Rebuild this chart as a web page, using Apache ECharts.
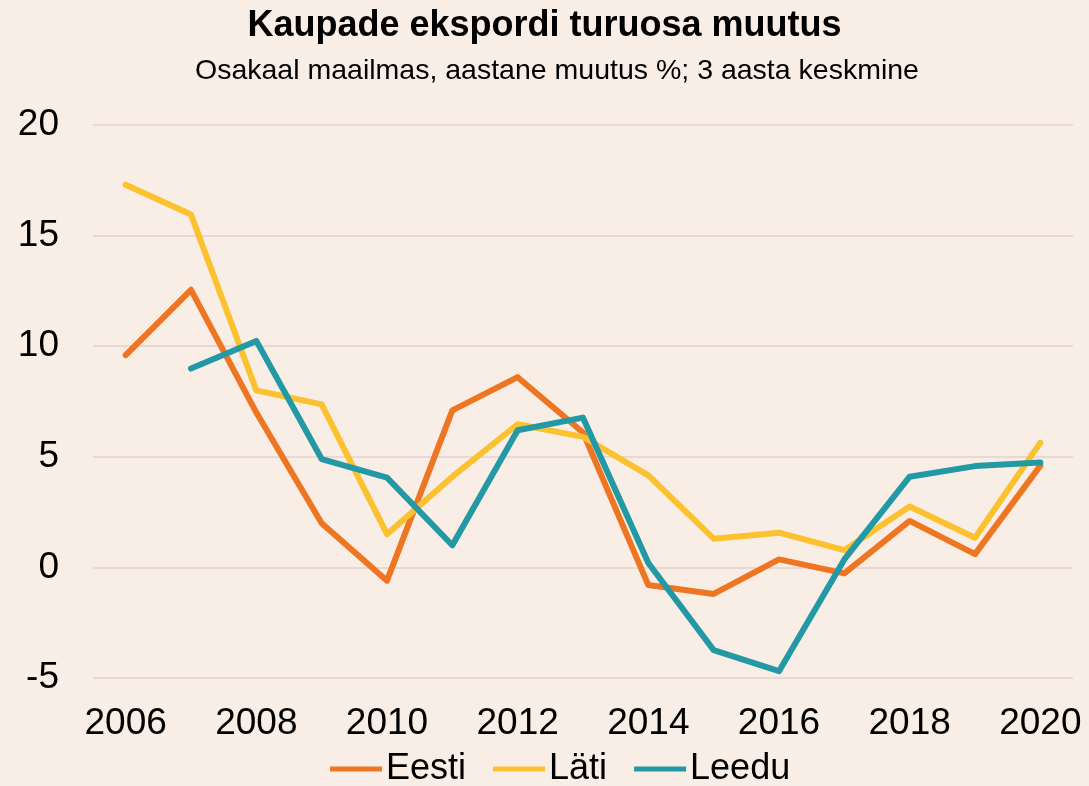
<!DOCTYPE html>
<html><head><meta charset="utf-8">
<script src="https://cdn.jsdelivr.net/npm/echarts@6/dist/echarts.min.js"></script>
<style>html,body{margin:0;padding:0;background:#F9EEE5;}#c{width:1089px;height:786px;}</style>
</head><body><div id="c"></div>
<script>
const years = ['2006','2007','2008','2009','2010','2011','2012','2013','2014','2015','2016','2017','2018','2019','2020'];
const eesti = [9.6, 12.55, 7.0, 2.0, -0.6, 7.1, 8.6, 6.1, -0.8, -1.2, 0.36, -0.27, 2.1, 0.6, 4.6];
const lati  = [17.3, 15.95, 8.0, 7.37, 1.5, 4.1, 6.47, 5.9, 4.16, 1.3, 1.57, 0.78, 2.75, 1.34, 5.64];
const leedu = [null, 8.99, 10.24, 4.9, 4.06, 1.0, 6.2, 6.77, 0.2, -3.74, -4.69, 0.36, 4.1, 4.58, 4.74];
const ff = '"Liberation Sans", Arial, sans-serif';
const chart = echarts.init(document.getElementById('c'));
function s(name, data, color){
  return {name, type:'line', data, showSymbol:false, symbol:'none', connectNulls:false,
    lineStyle:{width:6, color, cap:'round', join:'round'}, itemStyle:{color}};
}
chart.setOption({
  backgroundColor:'#F9EEE5',
  animation:false,
  title:[
    {text:'Kaupade ekspordi turuosa muutus', left:'center', top:3,
     textStyle:{fontFamily:ff, fontSize:36, fontWeight:'bold', color:'#000'}},
    {text:'Osakaal maailmas, aastane muutus %; 3 aasta keskmine', left:190, top:52,
     textStyle:{fontFamily:ff, fontSize:28.5, fontWeight:'normal', color:'#000'}}
  ],
  grid:{left:93, right:16, top:125, bottom:108, containLabel:false},
  xAxis:{type:'category', data:years, boundaryGap:true,
    axisLine:{show:false}, axisTick:{show:false},
    axisLabel:{interval:1, fontFamily:ff, fontSize:37, color:'#000', margin:27}},
  yAxis:{type:'value', min:-5, max:20, interval:5,
    axisLine:{show:false}, axisTick:{show:false},
    splitLine:{lineStyle:{color:'#E9D8D6', width:2}},
    axisLabel:{fontFamily:ff, fontSize:37, color:'#000', margin:34}},
  legend:{top:751, left:330, itemWidth:52, itemHeight:6, itemGap:27, padding:0,
    icon:'path://M0,0 L10,0 L10,1 L0,1 Z',
    textStyle:{fontFamily:ff, fontSize:36, color:'#000', padding:[0,0,0,-1]},
    data:['Eesti','Läti','Leedu']},
  series:[s('Eesti', eesti, '#EE7623'), s('Läti', lati, '#FBC12E'), s('Leedu', leedu, '#2299A5')]
});
</script></body></html>
